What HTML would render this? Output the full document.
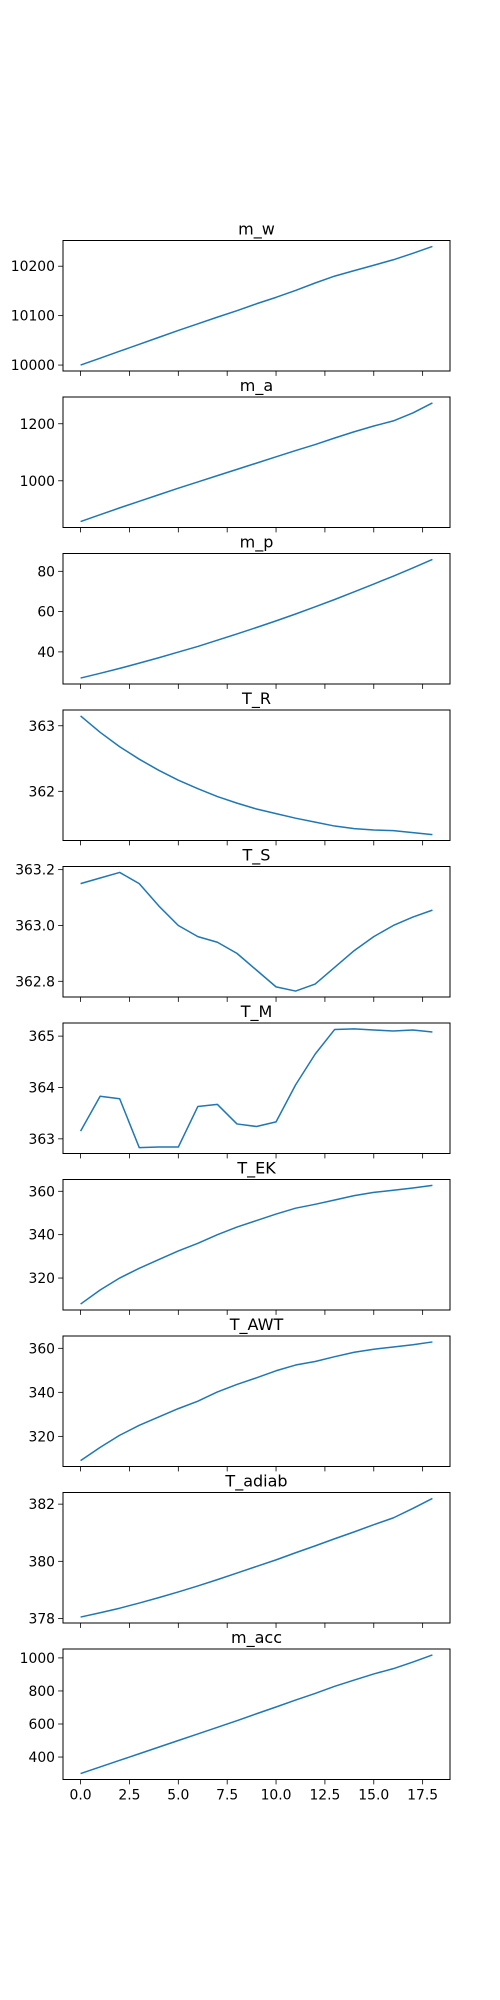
<!DOCTYPE html>
<html><head><meta charset="utf-8"><style>
html,body{margin:0;padding:0;background:#fff;}
svg{display:block;font-family:"DejaVu Sans","Liberation Sans",sans-serif;}
</style></head><body>
<svg id="fig" width="500" height="2000" viewBox="0 0 500 2000" xmlns="http://www.w3.org/2000/svg"></svg>
<script>
const titles = ["m_w","m_a","m_p","T_R","T_S","T_M","T_EK","T_AWT","T_adiab","m_acc"];
const xValues = [0,1,2,3,4,5,6,7,8,9,10,11,12,13,14,15,16,17,18];
const xTicks = [0,2.5,5,7.5,10,12.5,15,17.5];
const xTickLabels = ["0.0","2.5","5.0","7.5","10.0","12.5","15.0","17.5"];
const s_m_w = [10000,10014,10028,10042,10056,10070,10083.5,10097,10110,10124,10137,10151,10166,10180,10191,10202,10213,10226,10240];
const s_m_a = [857,881,905,928,951,974,996,1018,1040,1062,1084,1106,1127,1150,1172,1192,1210,1238,1273];
const s_m_p = [27,29.35,31.8,34.4,37.1,39.9,42.7,45.8,48.9,52.1,55.4,58.8,62.4,66.0,69.8,73.7,77.6,81.7,85.9];
const s_T_R = [363.15,362.90,362.68,362.49,362.32,362.17,362.04,361.92,361.82,361.73,361.66,361.59,361.53,361.47,361.43,361.41,361.40,361.37,361.34];
const s_T_S = [363.15,363.17,363.19,363.15,363.07,363.0,362.96,362.94,362.9,362.84,362.78,362.765,362.79,362.85,362.91,362.96,363.0,363.03,363.055];
const s_T_M = [363.15,363.83,363.78,362.83,362.84,362.84,363.63,363.67,363.29,363.24,363.33,364.05,364.65,365.13,365.14,365.12,365.10,365.12,365.08];
const s_T_EK = [308,314.5,320,324.5,328.5,332.5,336,340,343.5,346.5,349.5,352.2,354,356,358,359.5,360.5,361.5,362.7];
const s_T_AWT = [309,315,320.5,325,328.8,332.6,336,340.2,343.6,346.6,349.8,352.4,354,356.2,358.2,359.6,360.6,361.6,362.9];
const s_T_adiab = [378.05,378.2,378.36,378.54,378.73,378.93,379.14,379.36,379.59,379.82,380.05,380.3,380.54,380.79,381.03,381.28,381.52,381.85,382.2];
const s_m_acc = [300,340,380,420,460,500,540,580,620,662,703,745,785,828,866,903,935,975,1018];
const series = [s_m_w,s_m_a,s_m_p,s_T_R,s_T_S,s_T_M,s_T_EK,s_T_AWT,s_T_adiab,s_m_acc];
const yTicks = [[10000,10100,10200],[1000,1200],[40,60,80],[362,363],[362.8,363.0,363.2],[363,364,365],[320,340,360],[320,340,360],[378,380,382],[400,600,800,1000]];
const yTickLabels = [["10000","10100","10200"],["1000","1200"],["40","60","80"],["362","363"],["362.8","363.0","363.2"],["363","364","365"],["320","340","360"],["320","340","360"],["378","380","382"],["400","600","800","1000"]];

const NS="http://www.w3.org/2000/svg";
const svg=document.getElementById('fig');
function mk(tag,attrs,parent){const e=document.createElementNS(NS,tag);for(const k in attrs)e.setAttribute(k,attrs[k]);(parent||svg).appendChild(e);return e;}
const L=63,R=450,TOP0=240.5,H=130.5,STEP=156.5;
const xmin=-0.9,xmax=18.9;
function xs(v){return L+(v-xmin)/(xmax-xmin)*(R-L);}
for(let p=0;p<series.length;p++){
  const d=series[p];
  const top=TOP0+p*STEP,bot=top+H;
  let mn=Math.min(...d),mx=Math.max(...d),pad=(mx-mn)*0.05;
  const y0=mn-pad,y1=mx+pad;
  const ys=v=>bot-(v-y0)/(y1-y0)*H;
  const g=mk('g',{});
  
  
  const t=mk('text',{x:(L+R)/2,y:top-6,'text-anchor':'middle','font-size':'16','fill':'#000'},g);
  t.textContent=titles[p];
  
  
  let dstr='';
  for(let i=0;i<d.length;i++){dstr+=(i?'L':'M')+xs(xValues[i]).toFixed(2)+','+ys(d[i]).toFixed(2);}
  const ln=mk('path',{d:dstr,fill:'none',stroke:'#1f77b4','stroke-width':'1.5','stroke-linejoin':'round'},g);
  
  
  const fr=mk('rect',{x:L,y:top,width:R-L,height:H,fill:'none',stroke:'#000','stroke-width':'1'},g);
  
  
  for(let k=0;k<yTicks[p].length;k++){
    const yy=ys(yTicks[p][k]);
    mk('line',{x1:L,x2:L-4.9,y1:yy,y2:yy,stroke:'#000','stroke-width':'0.8'},g);
    const tl=mk('text',{x:L-8,y:yy+5,'text-anchor':'end','font-size':'13.9','fill':'#000'},g);
    tl.textContent=yTickLabels[p][k];
    
    
  }
  for(let k=0;k<xTicks.length;k++){
    const xx=xs(xTicks[k]);
    mk('line',{x1:xx,x2:xx,y1:bot,y2:bot+4.9,stroke:'#000','stroke-width':'0.8'},g);
    if(p===series.length-1){
      const tl=mk('text',{x:xx,y:bot+20,'text-anchor':'middle','font-size':'13.9','fill':'#000'},g);
      tl.textContent=xTickLabels[k];
      
      
    }
  }
}
</script>
</body></html>
